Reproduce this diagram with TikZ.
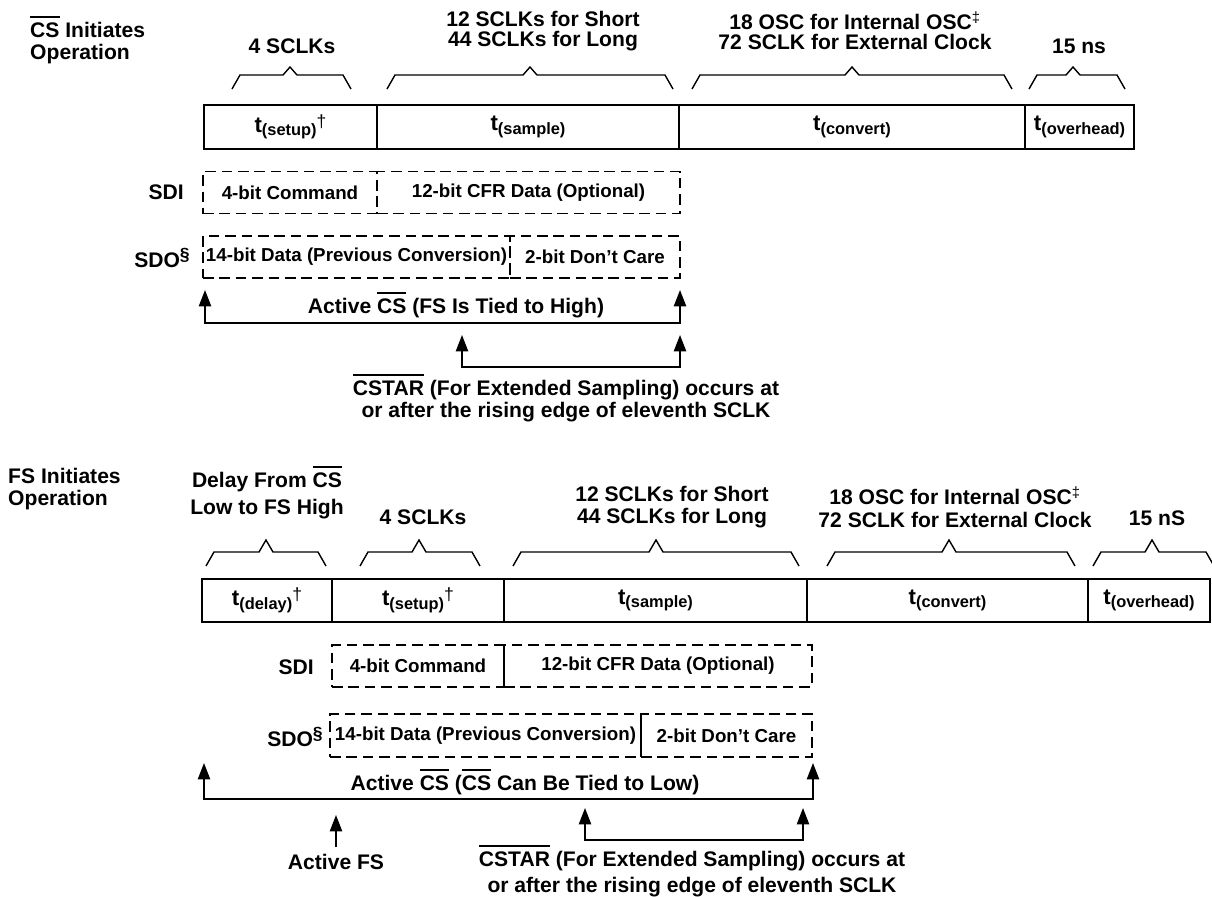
\documentclass[tikz,border=0pt]{standalone}
\usepackage{fontspec}
\setmainfont{Liberation Sans}
\usetikzlibrary{arrows.meta, positioning}

\newcommand\pxl{0.3mm}
\newcommand\ovl[1]{\leavevmode\vbox{\hrule height 1.6pt\kern 4pt\hbox{#1}}}
\newcommand\tsub[1]{{\fontsize{19}{19}\selectfont t}\raisebox{-0.55ex}{\fontsize{14}{14}\selectfont(#1)}}
\newcommand\dagsup{\raisebox{0.8ex}{\fontsize{15}{15}\selectfont\mdseries\textdagger}}
\newcommand\spanbrace[5]{\draw[bracepath] (#1,#4+14) -- (#1+8,#4) -- (#3-7,#4) -- (#3,#4-#5) -- (#3+7,#4) -- (#2-8,#4) -- (#2,#4+14);}

\tikzset{
  title/.style={font=\fontsize{18}{19}\selectfont\bfseries, align=left, inner sep=0pt},
  lbl/.style={font=\fontsize{18}{17}\selectfont\bfseries, align=center, inner sep=0pt},
  sig/.style={font=\fontsize{18}{19}\selectfont\bfseries, anchor=east, inner sep=0pt},
  seg/.style={draw, line width=1.7pt, minimum height=44*\pxl, inner sep=0pt, font=\bfseries},
  dbox/.style={draw, line width=1.5pt, dash pattern=on 9pt off 5pt, minimum height=42*\pxl, inner sep=0pt, font=\fontsize{16}{18}\selectfont\bfseries},
  bracepath/.style={line width=1.2pt},
  uparrow/.style={-{Triangle[length=14pt, width=10.5pt]}, line width=1.4pt},
  twotip/.style={{Triangle[length=14pt, width=10.5pt]}-{Triangle[length=14pt, width=10.5pt]}, line width=1.4pt}
}

\begin{document}
\begin{tikzpicture}[x=0.3mm, y=-0.3mm]
\useasboundingbox (0,0) rectangle (1212,896);

% CS initiates operation
\node[title, anchor=north west] (cstitle) at (30,16) {\ovl{CS} Initiates\\Operation};

\node[lbl] (csclk) at (292,46) {4 SCLKs};
\node[lbl] (cssmp) at (543,31) {12 SCLKs for Short\\44 SCLKs for Long};
\node[lbl] (cscnv) at (855,31) {18 OSC for Internal OSC\textsuperscript{\mdseries\textdaggerdbl}\\72 SCLK for External Clock};
\node[lbl] (csovh) at (1079,46) {15 ns};

\spanbrace{232}{351}{290}{75}{8}
\spanbrace{387}{673}{530}{75}{8}
\spanbrace{692}{1012}{852}{75}{8}
\spanbrace{1029}{1125}{1073}{75}{8}

\node[seg, minimum width=173*\pxl] (cssetup) at (290.5,127) {\tsub{setup}\dagsup};
\node[seg, minimum width=302*\pxl] (cssample) at (528,127) {\tsub{sample}};
\node[seg, minimum width=346*\pxl] (csconvert) at (852,127) {\tsub{convert}};
\node[seg, minimum width=109*\pxl] (csoverhead) at (1079.5,127) {\tsub{overhead}};

\node[sig] (cssdi) at (184,192) {SDI};
\node[dbox, minimum width=174*\pxl] (cscmd) at (290,192.5) {4-bit Command};
\node[dbox, minimum width=303*\pxl] (cscfr) at (528.5,192.5) {12-bit CFR Data (Optional)};
\node[sig] (cssdo) at (190,258) {SDO\raisebox{0.7ex}{\fontsize{15}{15}\selectfont\S}};
\node[dbox, minimum width=307*\pxl] (csprev) at (356.5,257) {14-bit Data (Previous Conversion)};
\node[dbox, minimum width=170*\pxl] (csdc) at (595,257) {2-bit Don't Care};

% active CS window
\coordinate (csL) at (205,290);
\coordinate (csR) at (680,290);
\coordinate (csbase) at (0,323);
\draw[twotip] (csL) -- (csL |- csbase) -- (csR |- csbase) -- (csR);
\node[lbl] (csactive) at (456,305) {Active \ovl{CS} (FS Is Tied to High)};

\coordinate (cstarL) at (462,335);
\coordinate (cstarR) at (680,335);
\coordinate (cstarbase) at (0,367);
\draw[twotip] (cstarL) -- (cstarL |- cstarbase) -- (cstarR |- cstarbase) -- (cstarR);
\node[lbl, font=\fontsize{18}{18.5}\selectfont\bfseries, anchor=north] (cstar) at (566,374) {\ovl{CSTAR} (For Extended Sampling) occurs at\\or after the rising edge of eleventh SCLK};

% FS initiates operation
\node[title, font=\fontsize{18}{18}\selectfont\bfseries, anchor=west] (fstitle) at (8,489) {FS Initiates\\Operation};

\node[lbl, font=\fontsize{18}{23}\selectfont\bfseries, anchor=north] (fsdly) at (267,466) {Delay From \ovl{CS}\\Low to FS High};
\node[lbl] (fsclk) at (423,517) {4 SCLKs};
\node[lbl, font=\fontsize{18}{19}\selectfont\bfseries] (fssmp) at (672,507) {12 SCLKs for Short\\44 SCLKs for Long};
\node[lbl, font=\fontsize{18}{19}\selectfont\bfseries] (fscnv) at (955,507) {18 OSC for Internal OSC\textsuperscript{\mdseries\textdaggerdbl}\\72 SCLK for External Clock};
\node[lbl] (fsovh) at (1157,518) {15 nS};

\spanbrace{206}{326}{266}{552}{12}
\spanbrace{360}{480}{419}{552}{12}
\spanbrace{513}{799}{656}{552}{12}
\spanbrace{827}{1075}{949}{552}{12}
\spanbrace{1093}{1214}{1152}{552}{12}

\node[seg, minimum width=130*\pxl, minimum height=43*\pxl] (fsdelay) at (267,600.5) {\tsub{delay}\dagsup};
\node[seg, minimum width=172*\pxl, minimum height=43*\pxl] (fssetup) at (418,600.5) {\tsub{setup}\dagsup};
\node[seg, minimum width=303*\pxl, minimum height=43*\pxl] (fssample) at (655.5,600.5) {\tsub{sample}};
\node[seg, minimum width=281*\pxl, minimum height=43*\pxl] (fsconvert) at (947.5,600.5) {\tsub{convert}};
\node[seg, minimum width=122*\pxl, minimum height=43*\pxl] (fsoverhead) at (1149,600.5) {\tsub{overhead}};

\node[sig] (fssdi) at (314,667) {SDI};
\node[dbox, minimum width=172*\pxl] (fscmd) at (418,666) {4-bit Command};
\node[dbox, minimum width=308*\pxl] (fscfr) at (658,666) {12-bit CFR Data (Optional)};
\node[sig] (fssdo) at (323,737) {SDO\raisebox{0.7ex}{\fontsize{15}{15}\selectfont\S}};
\node[dbox, minimum width=311*\pxl, minimum height=43*\pxl] (fsprev) at (485.5,735.5) {14-bit Data (Previous Conversion)};
\node[dbox, minimum width=171*\pxl, minimum height=43*\pxl] (fsdc) at (726.5,735.5) {2-bit Don't Care};

% active CS window, FS strobe, CSTAR
\coordinate (fsL) at (204,763);
\coordinate (fsR) at (813,763);
\coordinate (fsbase) at (0,799);
\draw[twotip] (fsL) -- (fsL |- fsbase) -- (fsR |- fsbase) -- (fsR);
\node[lbl] (fsactive) at (525,782) {Active \ovl{CS} (\ovl{CS} Can Be Tied to Low)};

\node[lbl] (fsact) at (336,862) {Active FS};
\coordinate (fstip) at (336,815);
\draw[uparrow, shorten <=6pt] (fsact.north) -- (fstip);

\coordinate (fstarL) at (585,808);
\coordinate (fstarR) at (803,808);
\coordinate (fstarbase) at (0,840);
\draw[twotip] (fstarL) -- (fstarL |- fstarbase) -- (fstarR |- fstarbase) -- (fstarR);
\node[lbl, font=\fontsize{18}{22}\selectfont\bfseries, anchor=north] (fsstar) at (692,845) {\ovl{CSTAR} (For Extended Sampling) occurs at\\or after the rising edge of eleventh SCLK};
\end{tikzpicture}
\end{document}
